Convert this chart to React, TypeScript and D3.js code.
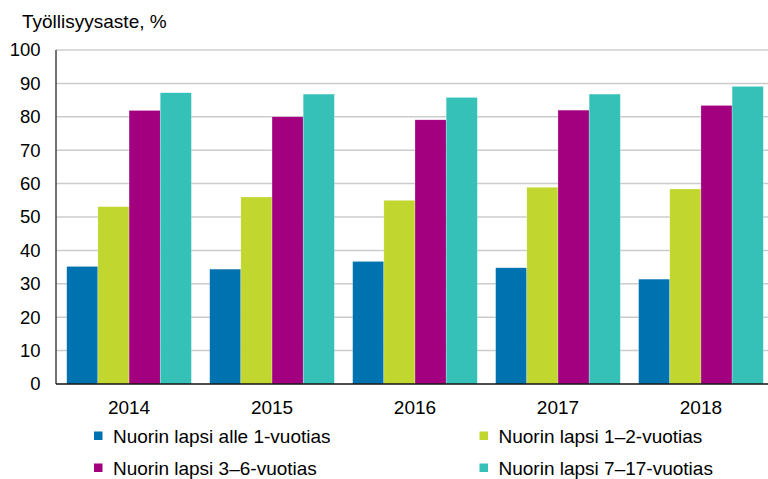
import React from 'react';
import { scaleBand, scaleLinear } from 'd3';

const years = ['2014', '2015', '2016', '2017', '2018'];
const seriesNames = [
  'Nuorin lapsi alle 1-vuotias',
  'Nuorin lapsi 1–2-vuotias',
  'Nuorin lapsi 3–6-vuotias',
  'Nuorin lapsi 7–17-vuotias',
];
const under1 = [35.2, 34.4, 36.7, 34.8, 31.4];
const age1to2 = [53.1, 56.0, 55.0, 58.9, 58.4];
const age3to6 = [81.9, 80.0, 79.1, 82.0, 83.4];
const age7to17 = [87.2, 86.8, 85.8, 86.8, 89.1];
const yTicks = [0, 10, 20, 30, 40, 50, 60, 70, 80, 90, 100];
const colors = ['#0072b0', '#c1d72f', '#a3007f', '#35c0b8'];

const series = [under1, age1to2, age3to6, age7to17];

const W = 768;
const H = 479;
const left = 56;
const right = 774;
const top = 50;
const bottom = 384;

export default function App() {
  const x = scaleBand().domain(years).range([left, right]).paddingInner(0.128).paddingOuter(0.075);
  const x1 = scaleBand().domain(seriesNames).range([0, x.bandwidth()]);
  const y = scaleLinear().domain([0, 100]).range([bottom, top]);
  const font = 'Liberation Sans, Arial, sans-serif';

  return (
    <svg width={W} height={H} style={{ position: 'absolute', left: 0, top: 0 }} fontFamily={font}>
      <rect width={W} height={H} fill="#fff" />
      <text x={22} y={28} fontSize={19} fill="#000">Työllisyysaste, %</text>
      {yTicks.map((t) => (
        <g key={t}>
          {t > 0 && (
            <line x1={left} x2={W} y1={y(t)} y2={y(t)} stroke="#cccccc" strokeWidth={1.5} />
          )}
          <text x={40.5} y={y(t)} dy="0.35em" textAnchor="end" fontSize={18.5} fill="#000">
            {t}
          </text>
        </g>
      ))}
      {years.map((yr, i) => (
        <g key={yr} transform={`translate(${x(yr)},0)`}>
          {series.map((s, j) => (
            <rect
              key={j}
              x={x1(seriesNames[j])}
              y={y(s[i])}
              width={x1.bandwidth()}
              height={bottom - y(s[i])}
              fill={colors[j]}
              stroke="#ffffff"
              strokeOpacity={0.5}
              strokeWidth={0.5}
            />
          ))}
          <text x={x.bandwidth() / 2} y={413.5} textAnchor="middle" fontSize={19} fill="#000">
            {yr}
          </text>
        </g>
      ))}
      <line x1={left} x2={left} y1={top} y2={bottom} stroke="#444" strokeWidth={1.5} />
      <line x1={left} x2={W} y1={bottom} y2={bottom} stroke="#111" strokeWidth={1.5} />
      {seriesNames.map((name, j) => {
        const lx = j % 2 === 0 ? 94 : 479.5;
        const base = j < 2 ? 442.5 : 474.5;
        return (
          <g key={name}>
            <rect x={lx} y={base - 11} width={8.5} height={8.5} fill={colors[j]} />
            <text x={lx + 19} y={base} fontSize={19} fill="#000">
              {name}
            </text>
          </g>
        );
      })}
    </svg>
  );
}
